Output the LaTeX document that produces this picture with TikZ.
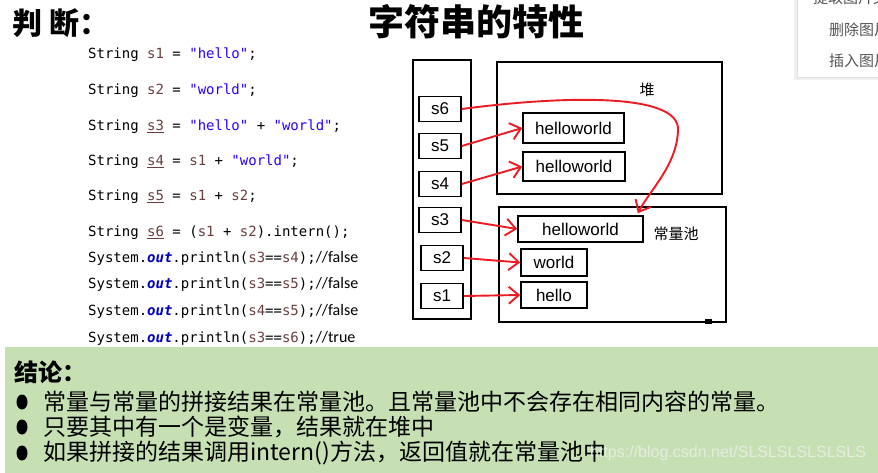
\documentclass[tikz,border=0pt]{standalone}
\usepackage{fontspec}
\usetikzlibrary{arrows.meta}
\setmainfont{Liberation Sans}
\newfontfamily\cjk{Noto Sans CJK SC}
\newfontfamily\codefont{DejaVu Sans Mono}
\newfontfamily\cmtfont{Carlito}
\definecolor{varc}{HTML}{6A3E3E}
\definecolor{strc}{HTML}{2A00FF}
\definecolor{outc}{HTML}{0000C0}
\definecolor{redline}{HTML}{ED1C24}
\definecolor{notec}{HTML}{C6E0B4}
\definecolor{wmc}{HTML}{E4EDDF}
\definecolor{menuc}{HTML}{555555}

\newcommand\vv[1]{\textcolor{varc}{#1}}
\newcommand\uv[1]{\textcolor{varc}{\underline{#1}}}
\newcommand\sv[1]{\textcolor{strc}{#1}}
\newcommand\ov{\textcolor{outc}{\bfseries\itshape out}}
\newcommand\cm[1]{{\cmtfont\fontsize{16}{16}\selectfont #1}}

\tikzset{
  code/.style={anchor=west, inner sep=0pt, font=\codefont\fontsize{14}{14}\selectfont},
  sbox/.style={draw, line width=1.6pt, minimum width=42pt, minimum height=25pt,
    inner sep=0pt, font=\fontsize{17}{17}\selectfont},
  obj/.style={sbox},
  ref/.style={draw=redline, line width=1.9pt,
    -{Straight Barb[length=10pt,width=17pt,line width=1.9pt]}},
  wall/.style={line width=1.6pt},
  note/.style={anchor=west, inner sep=0pt, font=\cjk\fontsize{23}{23}\selectfont},
  menu/.style={anchor=west, inner sep=0pt, text=menuc, font=\cjk\fontsize{15}{15}\selectfont}
}

\begin{document}
\begin{tikzpicture}[x=1pt,y=-1pt]
  \clip (0,0) rectangle (878,473);
  % headings
  \node[anchor=west, inner sep=0pt, font=\cjk\bfseries\fontsize{30}{30}\selectfont] (judge) at (12,23) {判\ 断：};
  \node[inner sep=0pt, font=\cjk\bfseries\fontsize{36}{36}\selectfont] (title) at (476,22) {字符串的特性};

  % code
  \node[code] (c1) at (88,55) {String \vv{s1} = \sv{"hello"};};
  \node[code] (c2) at (88,91) {String \vv{s2} = \sv{"world"};};
  \node[code] (c3) at (88,127) {String \uv{s3} = \sv{"hello"} + \sv{"world"};};
  \node[code] (c4) at (88,162) {String \uv{s4} = \vv{s1} + \sv{"world"};};
  \node[code] (c5) at (88,197) {String \uv{s5} = \vv{s1} + \vv{s2};};
  \node[code] (c6) at (88,233) {String \uv{s6} = (\vv{s1} + \vv{s2}).intern();};
  \node[code] (c7) at (88,258) {System.\ov.println(\vv{s3}==\vv{s4});\cm{//false}};
  \node[code] (c8) at (88,284) {System.\ov.println(\vv{s3}==\vv{s5});\cm{//false}};
  \node[code] (c9) at (88,311) {System.\ov.println(\vv{s4}==\vv{s5});\cm{//false}};
  \node[code] (c10) at (88,338) {System.\ov.println(\vv{s3}==\vv{s6});\cm{//true}};

  % stack, heap, pool
  \draw[wall] (413,60) rectangle (471,319);
  \draw[wall] (497,62) rectangle (722,194);
  \draw[wall] (499,207) rectangle (726,322);
  \fill (705,319) rectangle (712,324);
  \node[font=\cjk\fontsize{15}{15}\selectfont] (heap) at (647,90) {堆};
  \node[font=\cjk\fontsize{15}{15}\selectfont] (pool) at (676,234) {常量池};

  \foreach \n/\x/\y in {6/440/109, 5/440/146, 4/440/184, 3/440/220, 2/442/258, 1/442/296}
    \node[sbox] (s\n) at (\x,\y) {s\n};

  \node[obj, minimum width=101pt, minimum height=30pt] (hw1) at (573.5,128) {helloworld};
  \node[obj, minimum width=102pt, minimum height=29pt] (hw2) at (574,166.5) {helloworld};
  \node[obj, minimum width=125pt, minimum height=26pt] (hw3) at (580.5,229) {helloworld};
  \node[obj, minimum width=66pt, minimum height=27pt] (world) at (554,262.5) {world};
  \node[obj, minimum width=66pt, minimum height=26pt] (hello) at (554,295) {hello};

  % references
  \draw[ref] (s5.east) -- (hw1.west);
  \draw[ref] (s4.east) -- (hw2.west);
  \draw[ref] (s3.east) -- (hw3.west);
  \draw[ref] (s2.east) -- (world.west);
  \draw[ref] (s1.east) -- (hello.west);
  \coordinate (tip) at ([xshift=-6pt,yshift=2pt]hw3.north east);
  \draw[ref] (s6.east) .. controls (560,96) and (680,92) .. (678,130)
    .. controls (677,165) and (650,190) .. (tip);

  % conclusion
  \fill[notec] (5,347) rectangle (880,475);
  \node[note, font=\cjk\bfseries\fontsize{24}{24}\selectfont] (concl) at (14,372) {结论：};
  \foreach \y/\t [count=\i] in {402/{常量与常量的拼接结果在常量池。且常量池中不会存在相同内容的常量。},
      427/{只要其中有一个是变量，结果就在堆中},
      453/{如果拼接的结果调用intern()方法，返回值就在常量池中}}
  {
    \fill (22,\y) ellipse (5.5 and 7.5);
    \node[note] (n\i) at (43,\y) {\t};
  }
  \node[anchor=west, inner sep=0pt, text=wmc, font=\fontsize{16}{16}\selectfont] (mark) at (590,453) {https://blog.csdn.net/SLSLSLSLSLSLS};

  % context menu
  \fill[gray!12] (794,-5) rectangle (882,80);
  \filldraw[fill=white, draw=gray!25] (797,-5) rectangle (882,77);
  \node[menu] (m0) at (813,-2) {提取图片文字};
  \node[menu] (m1) at (829,30) {删除图片};
  \node[menu] (m2) at (829,61) {插入图片};
\end{tikzpicture}
\end{document}
